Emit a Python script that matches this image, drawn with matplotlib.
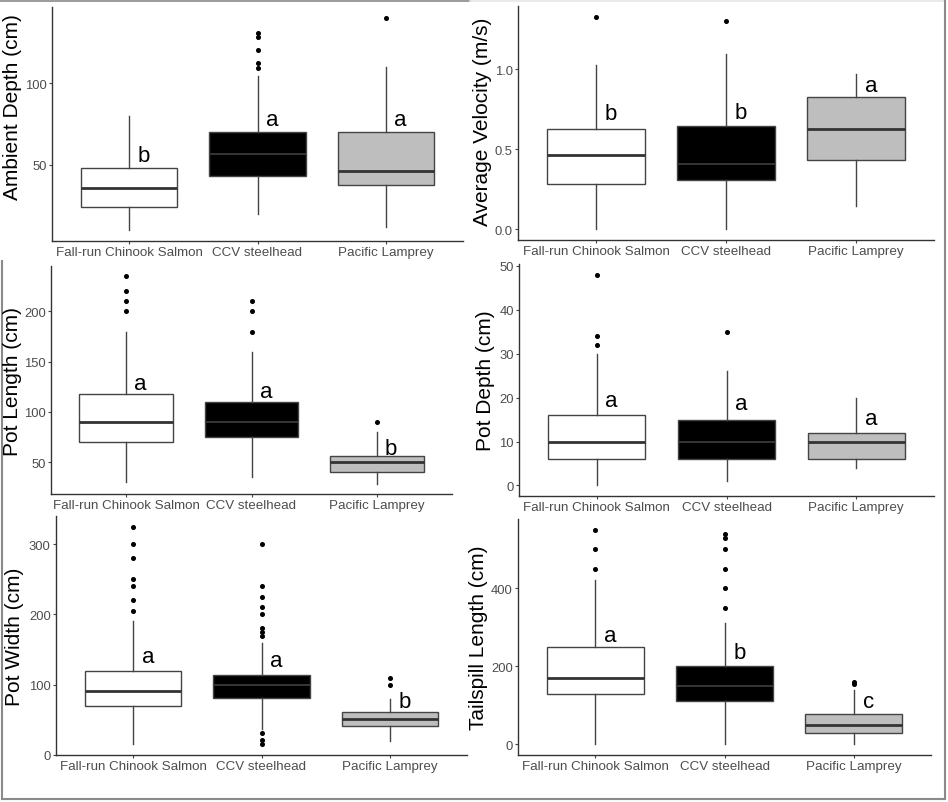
import matplotlib
matplotlib.use("Agg")
import matplotlib.pyplot as plt
from matplotlib.lines import Line2D

plt.rcParams['font.family'] = ['Liberation Sans', 'DejaVu Sans']

categories = ["Fall-run Chinook Salmon", "CCV steelhead", "Pacific Lamprey"]

# Panel 1: Ambient depth
amb_q1 = [24, 43.5, 38]
amb_med = [36, 56.5, 46]
amb_q3 = [48, 70, 70]
amb_lo = [10, 20, 12]
amb_hi = [80, 104.5, 110]
amb_fliers = [[], [109.5, 112, 120, 128, 130.5], [140]]
amb_letters = ["b", "a", "a"]
amb_letter_y = [52.6, 74.4, 74.4]
amb_ticks = [50, 100]

# Panel 2: Average velocity
vel_q1 = [0.284, 0.306, 0.435]
vel_med = [0.466, 0.406, 0.627]
vel_q3 = [0.627, 0.648, 0.828]
vel_lo = [0.0, 0.0, 0.149]
vel_hi = [1.025, 1.098, 0.973]
vel_fliers = [[1.33], [1.30], []]
vel_letters = ["b", "b", "a"]
vel_letter_y = [0.688, 0.694, 0.865]
vel_ticks = [0.0, 0.5, 1.0]

# Panel 3: Pot length
pl_q1 = [70, 75, 40]
pl_med = [90, 90, 50]
pl_q3 = [118, 110, 56]
pl_lo = [30, 35.5, 28.5]
pl_hi = [180, 160, 80]
pl_fliers = [[200, 210, 220, 235], [180, 200, 210], [90]]
pl_letters = ["a", "a", "b"]
pl_letter_y = [122.6, 115, 58.2]
pl_ticks = [50, 100, 150, 200]

# Panel 4: Pot depth
pd_q1 = [6, 6, 6]
pd_med = [10, 10, 10]
pd_q3 = [16, 15, 12]
pd_lo = [0, 1, 4]
pd_hi = [30, 26, 20]
pd_fliers = [[32, 34, 48], [35], []]
pd_letters = ["a", "a", "a"]
pd_letter_y = [18, 17.3, 13.9]
pd_ticks = [0, 10, 20, 30, 40, 50]

# Panel 5: Pot width
pw_q1 = [70, 80.5, 40.5]
pw_med = [90.5, 100, 50.5]
pw_q3 = [120, 113, 60.5]
pw_lo = [15, 36, 20]
pw_hi = [190, 160, 80]
pw_fliers = [[205, 220, 240, 250, 280, 300, 325],
             [15, 21, 31, 170, 175, 181, 200, 210, 225, 240, 300],
             [100, 110]]
pw_letters = ["a", "a", "b"]
pw_letter_y = [132, 126, 68.6]
pw_ticks = [0, 100, 200, 300]

# Panel 6: Tailspill length
tl_q1 = [130, 110, 30]
tl_med = [169, 150, 49]
tl_q3 = [250, 200, 78]
tl_lo = [0, 0, 0]
tl_hi = [420, 310, 140]
tl_fliers = [[450, 500, 550], [350, 400, 450, 500, 528, 540], [155, 160]]
tl_letters = ["a", "b", "c"]
tl_letter_y = [265, 220, 96.7]
tl_ticks = [0, 200, 400]

fills = ["#ffffff", "#000000", "#bebebe"]

W, H = 948, 803
fig = plt.figure(figsize=(W / 100, H / 100), dpi=100)

panels = [
    dict(rect=(52, 463, 8, 242), q1=amb_q1, med=amb_med, q3=amb_q3, lo=amb_lo, hi=amb_hi,
         fl=amb_fliers, let=amb_letters, ly=amb_letter_y, ticks=amb_ticks, fmt="{:.0f}",
         ylabel="Ambient Depth (cm)", lab=(13, 107)),
    dict(rect=(518, 934, 7, 241), q1=vel_q1, med=vel_med, q3=vel_q3, lo=vel_lo, hi=vel_hi,
         fl=vel_fliers, let=vel_letters, ly=vel_letter_y, ticks=vel_ticks, fmt="{:.1f}",
         ylabel="Average Velocity (m/s)", lab=(482, 122)),
    dict(rect=(51, 452, 267, 495), q1=pl_q1, med=pl_med, q3=pl_q3, lo=pl_lo, hi=pl_hi,
         fl=pl_fliers, let=pl_letters, ly=pl_letter_y, ticks=pl_ticks, fmt="{:.0f}",
         ylabel="Pot Length (cm)", lab=(13, 382)),
    dict(rect=(519, 934, 265, 497), q1=pd_q1, med=pd_med, q3=pd_q3, lo=pd_lo, hi=pd_hi,
         fl=pd_fliers, let=pd_letters, ly=pd_letter_y, ticks=pd_ticks, fmt="{:.0f}",
         ylabel="Pot Depth (cm)", lab=(486, 381)),
    dict(rect=(56, 467, 517, 756), q1=pw_q1, med=pw_med, q3=pw_q3, lo=pw_lo, hi=pw_hi,
         fl=pw_fliers, let=pw_letters, ly=pw_letter_y, ticks=pw_ticks, fmt="{:.0f}",
         ylabel="Pot Width (cm)", lab=(15, 637)),
    dict(rect=(518, 931, 520, 756), q1=tl_q1, med=tl_med, q3=tl_q3, lo=tl_lo, hi=tl_hi,
         fl=tl_fliers, let=tl_letters, ly=tl_letter_y, ticks=tl_ticks, fmt="{:.0f}",
         ylabel="Tailspill Length (cm)", lab=(479, 638)),
]

line_col = "#444444"
tick_col = "#4d4d4d"

for p in panels:
    l, r, t, b = p["rect"]
    ax = fig.add_axes([l / W, 1 - b / H, (r - l) / W, (b - t) / H])
    stats = []
    for i in range(3):
        stats.append(dict(med=p["med"][i], q1=p["q1"][i], q3=p["q3"][i],
                          whislo=p["lo"][i], whishi=p["hi"][i], fliers=p["fl"][i]))
    res = ax.bxp(stats, positions=[1, 2, 3], widths=0.75, patch_artist=True,
                 showcaps=False,
                 boxprops=dict(edgecolor=line_col, linewidth=1.0),
                 whiskerprops=dict(color=line_col, linewidth=1.0),
                 medianprops=dict(color="#333333", linewidth=2.0),
                 flierprops=dict(marker="o", markerfacecolor="black",
                                 markeredgecolor="black", markersize=2.6, linestyle="none"))
    for patch, c in zip(res["boxes"], fills):
        patch.set_facecolor(c)
    res["medians"][1].set_color("#3a3a3a")
    res["medians"][1].set_linewidth(1.3)
    # ggplot-like expansion of the data range
    allv = []
    for i in range(3):
        allv += [p["lo"][i], p["hi"][i]] + list(p["fl"][i])
    lo, hi = min(allv), max(allv)
    ext = (hi - lo) * 0.05
    ax.set_ylim(lo - ext, hi + ext)
    ax.set_xlim(0.4, 3.6)
    ax.set_xticks([1, 2, 3])
    ax.set_xticklabels(categories)
    ax.set_yticks(p["ticks"])
    ax.set_yticklabels([p["fmt"].format(v) for v in p["ticks"]])
    ax.tick_params(axis="both", colors=line_col, labelcolor=tick_col, length=2.0, width=0.8,
                   labelsize=9.6, pad=1.8)
    ax.tick_params(axis="y", labelsize=9.4)
    for s in ["top", "right"]:
        ax.spines[s].set_visible(False)
    for s in ["left", "bottom"]:
        ax.spines[s].set_color("#333333")
        ax.spines[s].set_linewidth(1.0)
    for i in range(3):
        ax.text(i + 1 + 0.115, p["ly"][i], p["let"][i], ha="center", va="baseline",
                fontsize=16, color="black")
    fig.text(p["lab"][0] / W, 1 - p["lab"][1] / H, p["ylabel"], rotation=90,
             ha="center", va="center", fontsize=15, color="black")

# figure frame lines (from the composite image)
def fl(x0, y0, x1, y1, c, lw):
    fig.add_artist(Line2D([x0 / W, x1 / W], [1 - y0 / H, 1 - y1 / H], color=c, linewidth=lw,
                          transform=fig.transFigure))

fl(0, 2, 470, 2, "#8a8a8a", 1.2)
fl(470, 2, 945, 2, "#e6e6e6", 1.2)
fl(945, 2, 945, 800, "#8a8a8a", 1.5)
fl(2, 262, 2, 800, "#8a8a8a", 1.5)
fl(2, 800, 945, 800, "#8a8a8a", 1.5)

fig.savefig("out.png", dpi=100)
